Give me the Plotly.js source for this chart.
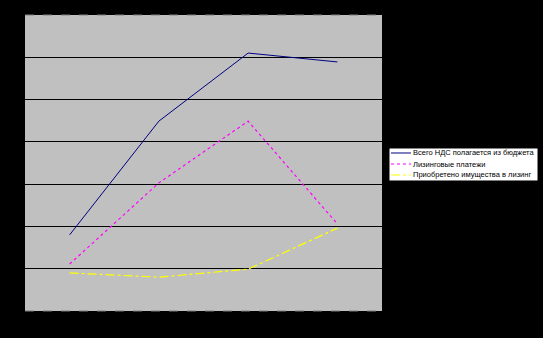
<!DOCTYPE html>
<html>
<head>
<meta charset="utf-8">
<script src="https://cdn.plot.ly/plotly-3.0.1.min.js"></script>
<style>html,body{margin:0;padding:0;background:#000;}#chart{width:543px;height:338px;}</style>
</head>
<body>
<div id="chart"></div>
<script>
var categories = ["1", "2", "3", "4"];
var vatTotal = [180, 449, 610, 589];
var leasingPayments = [111, 303, 449, 206];
var leasedAssets = [90, 80, 99, 196];
var seriesNames = ["Всего НДС полагается из бюджета", "Лизинговые платежи", "Приобретено имущества в лизинг"];
var seriesColors = ["#000080", "#FF00FF", "#FFFF00"];
var seriesDash = ["solid", "dot", "dashdot"];
var seriesWidth = [1, 1.2, 1.2];

var traces = [
  {x: categories, y: vatTotal, name: seriesNames[0], type: "scatter", mode: "lines",
   line: {color: seriesColors[0], width: seriesWidth[0], dash: seriesDash[0]}},
  {x: categories, y: leasingPayments, name: seriesNames[1], type: "scatter", mode: "lines",
   line: {color: seriesColors[1], width: seriesWidth[1], dash: seriesDash[1]}},
  {x: categories, y: leasedAssets, name: seriesNames[2], type: "scatter", mode: "lines",
   line: {color: seriesColors[2], width: seriesWidth[2], dash: seriesDash[2]}}
];

// custom compact legend (paper coordinates)
var legX0 = 1.0196, legX1 = 1.437, legY0 = 0.4392, legY1 = 0.5507;
var rowY = [0.5338, 0.4966, 0.4595];
var shapes = [
  {type: "line", xref: "paper", yref: "paper", x0: 0, x1: 1, y0: 1, y1: 1,
   line: {color: "#808080", width: 1, dash: "dash"}},
  {type: "line", xref: "paper", yref: "paper", x0: 0, x1: 1, y0: 0, y1: 0,
   line: {color: "#808080", width: 1, dash: "dash"}},
  {type: "rect", xref: "paper", yref: "paper", x0: legX0, x1: legX1, y0: legY0, y1: legY1,
   fillcolor: "#FFFFFF", line: {color: "#000000", width: 1}}
];
var annotations = [];
for (var i = 0; i < seriesNames.length; i++) {
  shapes.push({type: "line", xref: "paper", yref: "paper", x0: 1.0252, x1: 1.0812, y0: rowY[i], y1: rowY[i],
    line: {color: seriesColors[i], width: seriesWidth[i], dash: seriesDash[i]}});
  annotations.push({xref: "paper", yref: "paper", x: 1.0868, y: rowY[i], xanchor: "left", yanchor: "middle",
    text: seriesNames[i], showarrow: false, font: {size: 7.5, color: "#000"}, xshift: -2});
}

var layout = {
  width: 543, height: 338,
  paper_bgcolor: "#000000",
  plot_bgcolor: "#C0C0C0",
  margin: {l: 25, r: 161, t: 15, b: 27, autoexpand: false},
  font: {family: "Liberation Sans, Arial, sans-serif", size: 7.5, color: "#000"},
  xaxis: {type: "category", range: [-0.5, 3.5], showgrid: false, zeroline: false,
          showticklabels: false, ticks: "", showline: false},
  yaxis: {range: [0, 700], dtick: 100, showgrid: true, gridcolor: "#000000", gridwidth: 1,
          zeroline: false, showticklabels: false, ticks: "", showline: false},
  shapes: shapes,
  annotations: annotations,
  showlegend: false
};

Plotly.newPlot("chart", traces, layout, {displayModeBar: false, staticPlot: true});
</script>
</body>
</html>
